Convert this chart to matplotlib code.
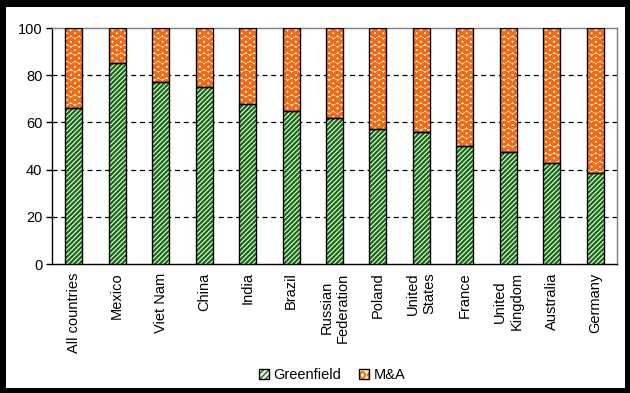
import numpy as np
import matplotlib
matplotlib.use("Agg")
import matplotlib.pyplot as plt
from matplotlib.patches import Rectangle, Patch

countries = ["All countries", "Mexico", "Viet Nam", "China", "India", "Brazil",
             "Russian\nFederation", "Poland", "United\nStates", "France",
             "United\nKingdom", "Australia", "Germany"]
greenfield = [66, 85, 77, 75, 68, 65, 62, 57, 56, 50, 47.5, 42.7, 38.5]
ma = [100 - g for g in greenfield]
yticks = [0, 20, 40, 60, 80, 100]

plt.rcParams['font.family'] = ['Liberation Sans', 'DejaVu Sans']
plt.rcParams['font.size'] = 10.5

green_hatch = '#156b15'
green_bg = '#eef8e4'
orange = '#f06a1a'
cream = '#fff2c8'

fig = plt.figure(figsize=(6.3, 3.93), dpi=100)
fig.patch.set_facecolor('black')
fig.add_artist(Rectangle((6/630, 5/393), 619/630, 381/393, transform=fig.transFigure,
                         facecolor='white', edgecolor='none', zorder=-10))

ax = fig.add_axes([52/630, 129/393, 565/630, 236/393])
x = np.arange(len(countries))
w = 0.39

# fills with hatch, then black outlines on top
with plt.rc_context({'hatch.linewidth': 1.6}):
    gbars = ax.bar(x, greenfield, w, color=green_bg, edgecolor=green_hatch,
                   hatch='///////', linewidth=0, zorder=3)
    gpatch = Patch(facecolor=green_bg, edgecolor=green_hatch, hatch='//////', linewidth=0)
with plt.rc_context({'hatch.linewidth': 2.0}):
    mbars = ax.bar(x, ma, w, bottom=greenfield, color=cream, edgecolor=orange,
                   hatch='OO', linewidth=0, zorder=3)
    mpatch = Patch(facecolor=cream, edgecolor=orange, hatch='OO', linewidth=0)
ax.bar(x, greenfield, w, fill=False, edgecolor='black', linewidth=1, zorder=4)
ax.bar(x, ma, w, bottom=greenfield, fill=False, edgecolor='black', linewidth=1, zorder=4)

ax.set_xlim(-0.5, len(countries) - 0.5)
ax.set_ylim(0, 100)
ax.set_yticks(yticks)
for yv in yticks[1:-1]:
    ax.axhline(yv, color='black', linestyle=(0, (4, 3)), linewidth=0.9, zorder=1)

ax.set_xticks(x)
ax.set_xticklabels(countries, rotation=90, ha='center', va='top')
ax.tick_params(axis='x', length=0, pad=6)
ax.tick_params(axis='y', length=4, width=1, pad=3, direction='out')

for s in ['top', 'right']:
    ax.spines[s].set_color('#808080')
    ax.spines[s].set_linewidth(1)
for s in ['left', 'bottom']:
    ax.spines[s].set_color('black')
    ax.spines[s].set_linewidth(1)

outline = Patch(fill=False, edgecolor='black', linewidth=1)
fig.legend(handles=[(gpatch, outline), (mpatch, outline)], labels=['Greenfield', 'M&A'],
           loc='center', bbox_to_anchor=(0.527, 0.045), ncol=2,
           frameon=False, handlelength=0.7, handleheight=0.7, handletextpad=0.3,
           columnspacing=1.2)

fig.savefig('out.png', dpi=100, facecolor=fig.get_facecolor())
